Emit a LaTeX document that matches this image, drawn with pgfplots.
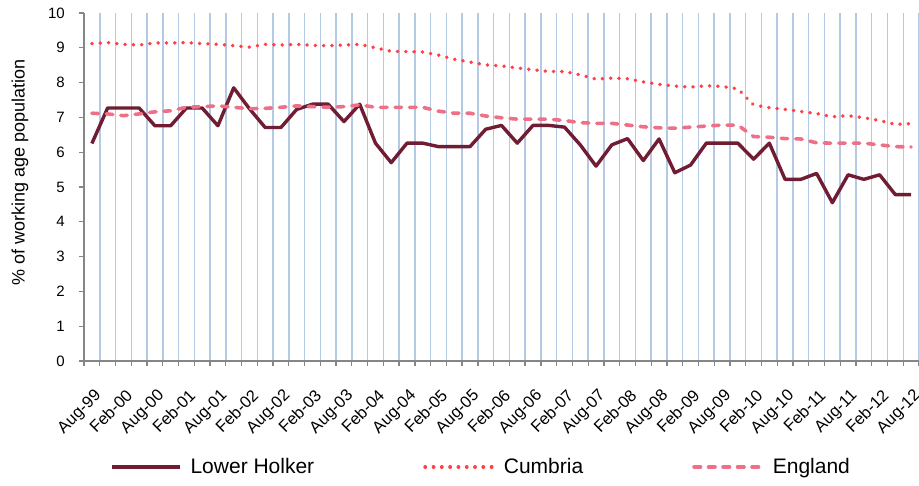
\documentclass[border=0pt]{standalone}
\usepackage{fontspec}
\setmainfont{Liberation Sans}
\usepackage{pgfplots}
\pgfplotsset{compat=1.18}
\usepackage{pgfplotstable}
\definecolor{lh}{RGB}{112,28,50}
\definecolor{cumb}{RGB}{255,64,72}
\definecolor{eng}{RGB}{238,112,135}
\definecolor{gridblue}{RGB}{180,201,227}
\definecolor{axgray}{RGB}{134,134,134}

\pgfplotstableread{
x lh cu en
0 6.25 9.12 7.12
1 7.27 9.15 7.10
2 7.27 9.10 7.05
3 7.27 9.08 7.10
4 6.76 9.14 7.16
5 6.76 9.14 7.19
6 7.27 9.15 7.29
7 7.27 9.12 7.31
8 6.76 9.10 7.33
9 7.85 9.06 7.29
10 7.25 9.02 7.25
11 6.71 9.10 7.26
12 6.71 9.08 7.29
13 7.23 9.10 7.33
14 7.38 9.07 7.31
15 7.38 9.06 7.29
16 6.88 9.08 7.31
17 7.38 9.10 7.36
18 6.26 9.00 7.29
19 5.70 8.90 7.29
20 6.26 8.89 7.29
21 6.26 8.88 7.29
22 6.16 8.79 7.18
23 6.16 8.67 7.12
24 6.16 8.59 7.12
25 6.66 8.51 7.04
26 6.77 8.48 6.99
27 6.26 8.42 6.95
28 6.77 8.37 6.95
29 6.77 8.32 6.95
30 6.72 8.32 6.91
31 6.21 8.22 6.85
32 5.60 8.10 6.83
33 6.21 8.13 6.83
34 6.39 8.11 6.78
35 5.76 8.02 6.73
36 6.38 7.95 6.70
37 5.41 7.90 6.69
38 5.63 7.87 6.72
39 6.26 7.91 6.75
40 6.26 7.89 6.78
41 6.26 7.82 6.78
42 5.80 7.36 6.45
43 6.26 7.28 6.43
44 5.22 7.23 6.39
45 5.22 7.17 6.38
46 5.39 7.11 6.27
47 4.55 7.02 6.26
48 5.35 7.05 6.26
49 5.22 6.99 6.26
50 5.35 6.91 6.21
51 4.78 6.80 6.16
52 4.78 6.82 6.15
}\data

\begin{document}
\begin{tikzpicture}
\useasboundingbox (-84pt,-124pt) rectangle (835pt,361pt);
\begin{axis}[
  at={(0pt,0pt)}, anchor=south west,
  scale only axis, width=835pt, height=348pt,
  xmin=-0.5, xmax=52.5, ymin=0, ymax=10,
  axis x line*=bottom, axis y line*=left,
  axis line style={axgray, line width=1.3pt, -},
  tick align=outside, major tick length=5pt, minor tick length=5pt,
  tick style={axgray, line width=1.3pt},
  ytick={0,1,...,10},
  xtick={0,2,...,52},
  xticklabels={Aug-99,Feb-00,Aug-00,Feb-01,Aug-01,Feb-02,Aug-02,Feb-03,Aug-03,Feb-04,Aug-04,Feb-05,Aug-05,Feb-06,Aug-06,Feb-07,Aug-07,Feb-08,Aug-08,Feb-09,Aug-09,Feb-10,Aug-10,Feb-11,Aug-11,Feb-12,Aug-12},
  minor xtick={-0.5,0.5,...,52.5},
  major x tick style={draw=none},
  minor x tick style={axgray, line width=1.3pt},
  xmajorgrids=false, xminorgrids=true, ymajorgrids=false,
  minor x grid style={gridblue, line width=1.5pt},
  xticklabel style={font=\fontsize{16.5}{19}\selectfont, inner sep=0pt, xshift=1.5pt, yshift=-22pt, rotate=45, anchor=north east},
  yticklabel style={font=\fontsize{15}{18}\selectfont, inner sep=0pt, anchor=east, xshift=-14pt},
  /pgf/number format/assume math mode=true,
  ylabel={\% of working age population},
  ylabel style={font=\fontsize{18}{21}\selectfont, at={(axis description cs:-0.0766,0.543)}, anchor=center},
  legend columns=3,
  legend style={draw=none, fill=none, at={(axis description cs:0.0311,-0.3046)}, anchor=west,
    inner sep=0pt, font=\fontsize{21}{25}\selectfont, nodes={inner sep=0pt},
    /tikz/every odd column/.append style={column sep=9pt},
    /tikz/every even column/.append style={column sep=109pt}},
  legend image code/.code={\draw[#1] (0pt,0pt) -- (68pt,0pt);},
]
\addplot[lh, line width=3.4pt, line join=round] table[x=x,y=lh]{\data};
\addlegendentry{Lower Holker}
\addplot[cumb, line width=3.6pt, line cap=round, dash pattern=on 0.3pt off 8pt] table[x=x,y=cu]{\data};
\addlegendentry{Cumbria}
\addplot[eng, line width=3.6pt, line cap=round, dash pattern=on 6.5pt off 8pt] table[x=x,y=en]{\data};
\addlegendentry{England}
\end{axis}
\end{tikzpicture}
\end{document}
